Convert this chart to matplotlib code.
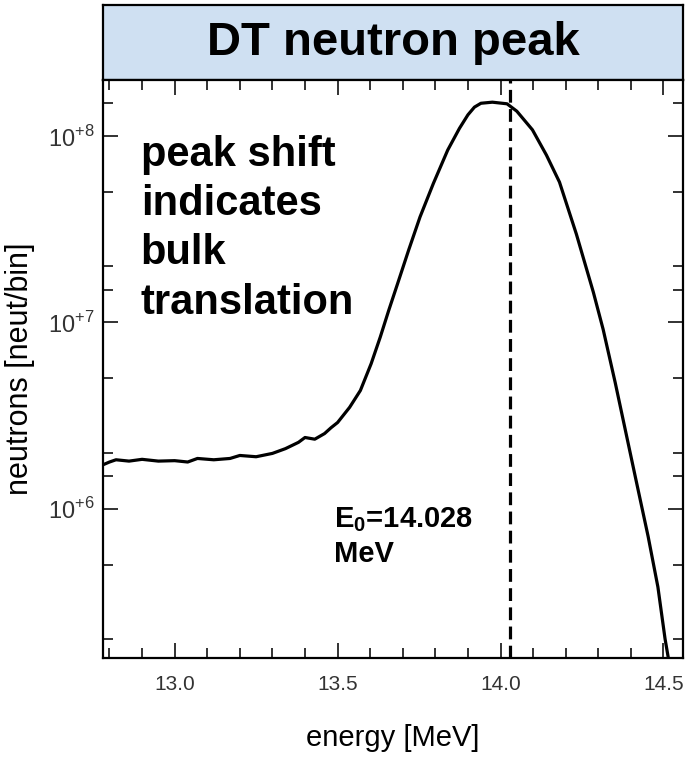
import numpy as np
import matplotlib
matplotlib.use('Agg')
import matplotlib.pyplot as plt
from matplotlib.ticker import LogLocator, FixedLocator, MultipleLocator, NullFormatter

plt.rcParams['font.family'] = ['Liberation Sans', 'DejaVu Sans']
plt.rcParams['mathtext.fontset'] = 'custom'
plt.rcParams['mathtext.rm'] = 'Liberation Sans'
plt.rcParams['mathtext.bf'] = 'Liberation Sans:bold'

# spectrum (energy in MeV, neutrons per bin)
energy = [12.78, 12.80, 12.82, 12.86, 12.90, 12.95, 13.00, 13.04, 13.07, 13.12,
          13.17, 13.20, 13.25, 13.30, 13.34, 13.38, 13.40, 13.43, 13.46, 13.48,
          13.50, 13.537, 13.570, 13.603, 13.631, 13.657, 13.684, 13.718, 13.753, 13.794,
          13.838, 13.874, 13.90, 13.92, 13.94, 13.975, 14.02, 14.05, 14.098, 14.141,
          14.181, 14.233, 14.285, 14.315, 14.352, 14.416, 14.453, 14.483, 14.505, 14.515,
          14.53]
counts = [1.72e6, 1.78e6, 1.83e6, 1.80e6, 1.84e6, 1.80e6, 1.81e6, 1.78e6, 1.86e6, 1.83e6,
          1.86e6, 1.93e6, 1.90e6, 1.98e6, 2.10e6, 2.27e6, 2.41e6, 2.36e6, 2.53e6, 2.72e6,
          2.90e6, 3.50e6, 4.31e6, 6.00e6, 8.34e6, 1.16e7, 1.61e7, 2.44e7, 3.68e7, 5.57e7,
          8.41e7, 1.10e8, 1.30e8, 1.43e8, 1.50e8, 1.52e8, 1.49e8, 1.36e8, 1.08e8, 7.9e7,
          5.66e7, 2.97e7, 1.45e7, 9.17e6, 4.75e6, 1.42e6, 7.1e5, 3.8e5, 2.0e5, 1.58e5,
          1.1e5]

E0 = 14.028
x_ticks = [13.0, 13.5, 14.0, 14.5]
x_ticklabels = ['13.0', '13.5', '14.0', '14.5']
y_ticks = [1e6, 1e7, 1e8]
y_ticklabels = [r'$10^{+6}$', r'$10^{+7}$', r'$10^{+8}$']

fig = plt.figure(figsize=(6.86, 7.61), dpi=100)

# title banner
tax = fig.add_axes([0.1501, 0.8949, 0.8455, 0.0985])
tax.set_facecolor('#cfe0f2')
tax.set_xticks([])
tax.set_yticks([])
for s in tax.spines.values():
    s.set_linewidth(1.6)
tax.text(0.5, 0.50, 'DT neutron peak', ha='center', va='center',
         fontsize=34, fontweight='bold', transform=tax.transAxes)

ax = fig.add_axes([0.1501, 0.1354, 0.8455, 0.7595])
ax.plot(energy, counts, color='black', lw=2.3)
ax.axvline(E0, color='black', lw=2.3, ls=(0, (4, 2)))
ax.set_yscale('log')
ax.set_xlim(12.78, 14.56)
ax.set_ylim(1.58e5, 2e8)

ax.xaxis.set_major_locator(FixedLocator(x_ticks))
ax.set_xticklabels(x_ticklabels)
ax.xaxis.set_minor_locator(MultipleLocator(0.1))
ax.yaxis.set_major_locator(FixedLocator(y_ticks))
ax.set_yticklabels(y_ticklabels)
ax.yaxis.set_minor_locator(LogLocator(base=10, subs=[1.5, 2, 5]))
ax.yaxis.set_minor_formatter(NullFormatter())

ax.tick_params(which='both', direction='in', top=True, right=True,
               width=1.3, colors='#222222', labelcolor='#333333')
ax.tick_params(axis='x', labelsize=15, pad=12)
ax.tick_params(axis='y', labelsize=17, pad=6)
ax.tick_params(which='major', length=11)
ax.tick_params(which='minor', length=7)
for s in ax.spines.values():
    s.set_linewidth(1.6)

ax.set_xlabel('energy [MeV]', fontsize=21, labelpad=22)
ax.set_ylabel('neutrons [neut/bin]', fontsize=22, labelpad=9)

ax.text(0.065, 0.905, 'peak shift\nindicates\nbulk\ntranslation', transform=ax.transAxes,
        ha='left', va='top', fontsize=30, fontweight='bold', linespacing=1.3)
ax.text(0.398, 0.265, r'E$_\mathbf{0}$=14.028' + '\nMeV', transform=ax.transAxes,
        ha='left', va='top', fontsize=21, fontweight='bold', linespacing=1.3)

fig.savefig('out.png', dpi=100)
